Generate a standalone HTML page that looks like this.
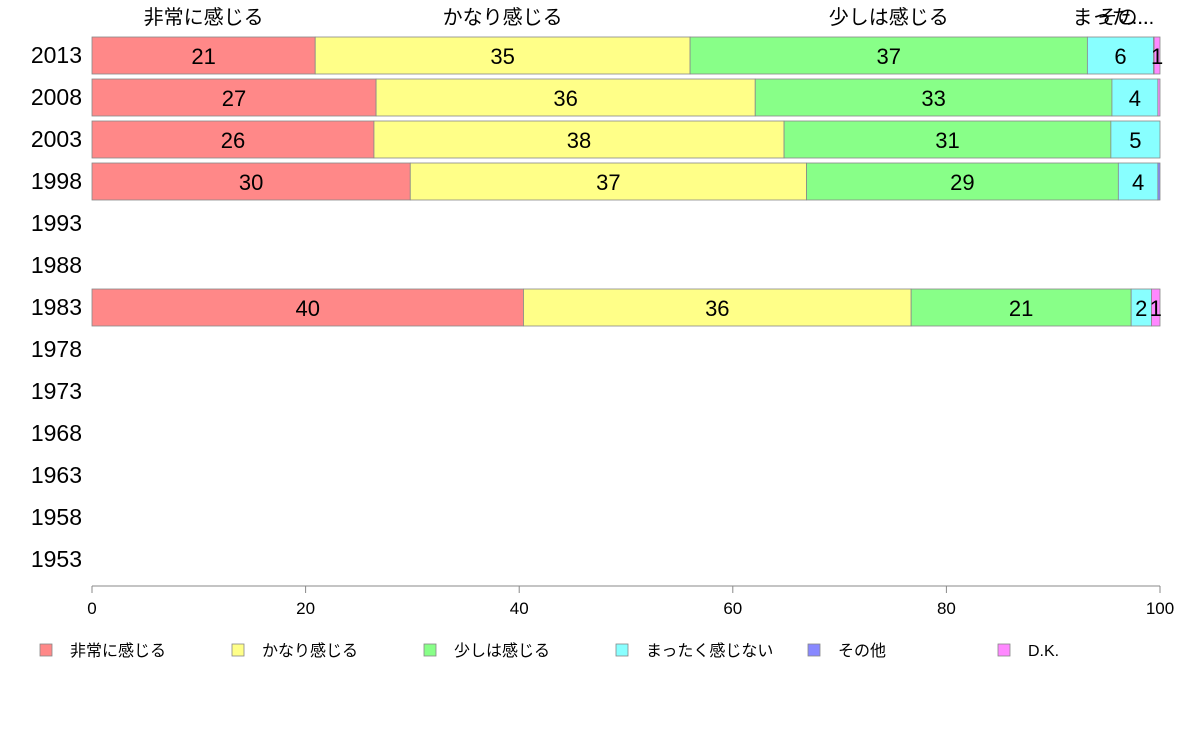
<!DOCTYPE html>
<html><head><meta charset="utf-8"><style>
body{margin:0;background:#fff;}
svg{font-family:"Liberation Sans","Noto Sans CJK JP",sans-serif;}
</style></head><body>
<svg id="chart" width="1188" height="736"></svg>
<script>
const years=["2013","2008","2003","1998","1993","1988","1983","1978","1973","1968","1963","1958","1953"];
const seriesNames=["非常に感じる","かなり感じる","少しは感じる","まったく感じない","その他","D.K."];
const s1=[20.9,26.6,26.4,29.8,null,null,40.4,null,null,null,null,null,null];
const s2=[35.1,35.5,38.4,37.1,null,null,36.3,null,null,null,null,null,null];
const s3=[37.2,33.4,30.6,29.2,null,null,20.6,null,null,null,null,null,null];
const s4=[6.2,4.3,4.6,3.7,null,null,1.9,null,null,null,null,null,null];
const s5=[0.05,0.0,0.0,0.2,null,null,0.0,null,null,null,null,null,null];
const s6=[0.55,0.2,0.0,0.0,null,null,0.8,null,null,null,null,null,null];
const valueLabels=[["21","35","37","6","","1"],["27","36","33","4","",""],["26","38","31","5","",""],["30","37","29","4","",""],null,null,["40","36","21","2","","1"]];
const xTicks=[0,20,40,60,80,100];
const colors=["#ff8888","#ffff88","#88ff88","#88ffff","#8888ff","#ff88ff"];
const NS="http://www.w3.org/2000/svg";
const svg=document.getElementById("chart");
const x0=92,x1=1160;
const xs=v=>x0+(x1-x0)*v/100;
const yc=i=>55+i*42;
function mk(t,a){const e=document.createElementNS(NS,t);for(const k in a)e.setAttribute(k,a[k]);svg.appendChild(e);return e;}
const series=[s1,s2,s3,s4,s5,s6];
// row labels
years.forEach((y,i)=>{
  const t=mk("text",{x:82,y:yc(i)+8,"text-anchor":"end","font-size":23,fill:"#000"});
  t.textContent=y;
  
  
});
// bars
years.forEach((y,i)=>{
  if(s1[i]==null)return;
  let acc=0;
  series.forEach((s,j)=>{
    const v=s[i];
    const r=mk("rect",{x:xs(acc),y:yc(i)-18,width:Math.max(0,xs(acc+v)-xs(acc)),height:37,fill:colors[j],stroke:"#888","stroke-width":0.8});
    
    
    const lab=valueLabels[i]&&valueLabels[i][j];
    if(lab){
      const t=mk("text",{x:(xs(acc)+xs(acc+v))/2,y:yc(i)+9,"text-anchor":"middle","font-size":22,fill:"#000"});
      t.textContent=lab;
      
      
    }
    acc+=v;
  });
});
// top category labels (from first row)
{
  let acc=0;
  const shortNames=["非常に感じる","かなり感じる","少しは感じる","まった...","その...",""];
  series.forEach((s,j)=>{
    const v=s[0];
    let cx=(xs(acc)+xs(acc+v))/2;
    if(j==3)cx-=10; if(j==4)cx-=28;
    if(shortNames[j]){
      const t=mk("text",{x:cx,y:24,"text-anchor":"middle","font-size":20,fill:"#000"});
      t.textContent=shortNames[j];
      
      
    }
    acc+=v;
  });
}
// axis
const ax=mk("line",{x1:x0,x2:x1,y1:586,y2:586,stroke:"#888","stroke-width":1});


xTicks.forEach(v=>{
  const l=mk("line",{x1:xs(v),x2:xs(v),y1:586,y2:593,stroke:"#888"});
  
  
  const t=mk("text",{x:xs(v),y:614,"text-anchor":"middle","font-size":17,fill:"#000"});
  t.textContent=v;
  
  
});
// legend
seriesNames.forEach((n,j)=>{
  const lx=[40,232,424,616,808,998][j];
  const r=mk("rect",{x:lx,y:644,width:12,height:12,fill:colors[j],stroke:"#888","stroke-width":0.8});
  
  
  const t=mk("text",{x:lx+30,y:656,"font-size":16,fill:"#000"});
  t.textContent=n;
  
  
});
</script>
</body></html>
